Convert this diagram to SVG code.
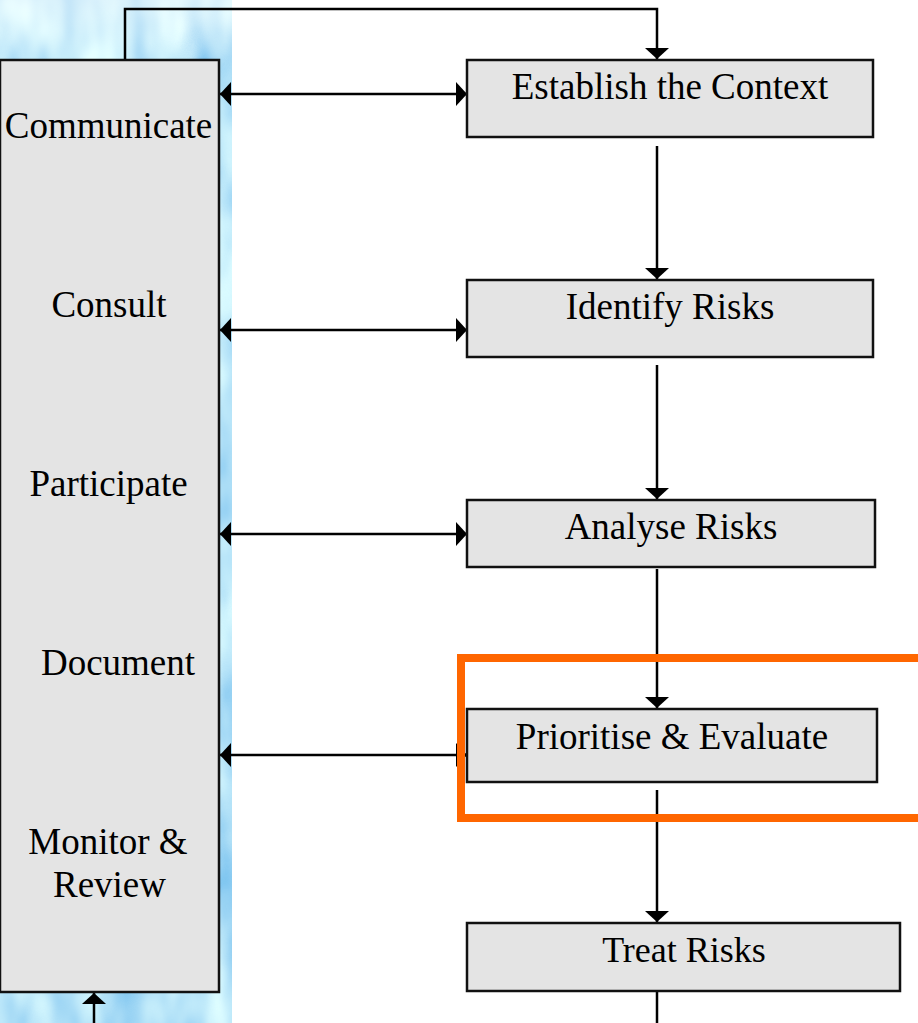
<svg xmlns="http://www.w3.org/2000/svg" width="918" height="1023" viewBox="0 0 918 1023">
<style>
.box{fill:#e4e4e4;stroke:#111;stroke-width:2.5}
.lbl{font-family:"Liberation Serif","Times New Roman",serif;font-size:37px;fill:#000;text-anchor:middle}
.ln{fill:none;stroke:#000;stroke-width:2.5}
</style>
<defs>
<filter id="water" x="0" y="0" width="100%" height="100%" filterUnits="objectBoundingBox">
<feTurbulence type="fractalNoise" baseFrequency="0.02 0.009" numOctaves="3" seed="7" result="n"/>
<feColorMatrix in="n" type="matrix" values="1.1 0 0 0 -0.05  0.9 0 0 0 0.35  0.3 0 0 0 0.8  0 0 0 0 1"/>
</filter>
<linearGradient id="topfade" x1="0" y1="0" x2="0" y2="1">
<stop offset="0" stop-color="#fff" stop-opacity="0.45"/>
<stop offset="1" stop-color="#fff" stop-opacity="0"/>
</linearGradient>
<marker id="ah" markerUnits="userSpaceOnUse" markerWidth="12" markerHeight="26" refX="11" refY="12" orient="auto-start-reverse" viewBox="0 0 12 26">
<path d="M0,0 L11,12 L0,24 Z" fill="#000"/>
</marker>
</defs>
<rect width="918" height="1023" fill="#fff"/>
<rect id="texture" x="0" y="0" width="232" height="1023" filter="url(#water)"/>
<rect x="0" y="0" width="232" height="70" fill="url(#topfade)"/>

<g id="connectors">
<path class="ln" d="M125,60 V9 H657 V59" marker-end="url(#ah)"/>
<line class="ln" x1="220" y1="94" x2="467" y2="94" marker-start="url(#ah)" marker-end="url(#ah)"/>
<line class="ln" x1="220" y1="330" x2="467" y2="330" marker-start="url(#ah)" marker-end="url(#ah)"/>
<line class="ln" x1="220" y1="534" x2="467" y2="534" marker-start="url(#ah)" marker-end="url(#ah)"/>
<line class="ln" x1="220" y1="755" x2="467" y2="755" marker-start="url(#ah)" marker-end="url(#ah)"/>
<line class="ln" x1="657" y1="146" x2="657" y2="279" marker-end="url(#ah)"/>
<line class="ln" x1="657" y1="365" x2="657" y2="499" marker-end="url(#ah)"/>
<line class="ln" x1="657" y1="569" x2="657" y2="708" marker-end="url(#ah)"/>
<line class="ln" x1="657" y1="790" x2="657" y2="922" marker-end="url(#ah)"/>
<line class="ln" x1="657" y1="991" x2="657" y2="1023"/>
<line class="ln" x1="94" y1="1023" x2="94" y2="993" marker-end="url(#ah)"/>
</g>

<g id="left-panel">
<rect class="box" x="0" y="60" width="219" height="932"/>
<text class="lbl" x="108.5" y="138">Communicate</text>
<text class="lbl" x="109" y="317">Consult</text>
<text class="lbl" x="108.5" y="496">Participate</text>
<text class="lbl" x="118" y="675">Document</text>
<text class="lbl" x="108" y="854">Monitor &amp;</text>
<text class="lbl" x="109.5" y="897">Review</text>
</g>

<g id="establish">
<rect class="box" x="467" y="60" width="406" height="77"/>
<text class="lbl" x="670" y="99">Establish the Context</text>
</g>
<g id="identify">
<rect class="box" x="467" y="280" width="406" height="77"/>
<text class="lbl" x="670" y="319">Identify Risks</text>
</g>
<g id="analyse">
<rect class="box" x="467" y="500" width="408" height="67"/>
<text class="lbl" x="671" y="539">Analyse Risks</text>
</g>
<g id="prioritise">
<rect class="box" x="467" y="709" width="410" height="73"/>
<text class="lbl" x="672" y="749">Prioritise &amp; Evaluate</text>
</g>
<g id="treat">
<rect class="box" x="467" y="923" width="433" height="68"/>
<text class="lbl" x="684" y="962" style="font-size:36px">Treat Risks</text>
</g>

<g id="highlight">
<rect x="461" y="658" width="470" height="160" fill="none" stroke="#ff6600" stroke-width="8"/>
</g>
</svg>
